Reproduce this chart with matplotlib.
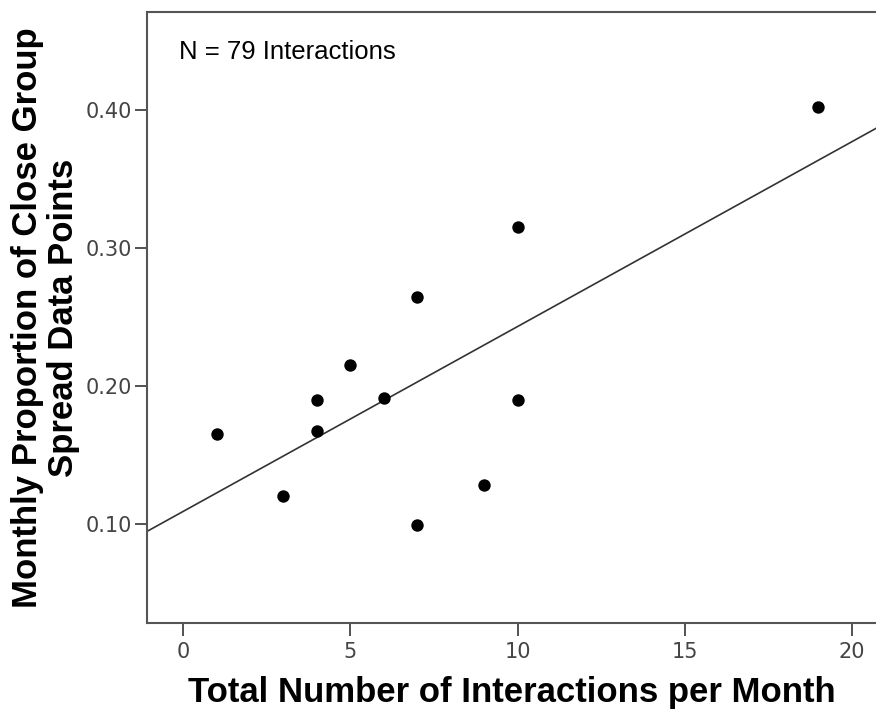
import numpy as np
import matplotlib
matplotlib.use('Agg')
import matplotlib.pyplot as plt

# values
interactions = [1, 3, 4, 4, 5, 6, 7, 7, 9, 10, 10, 19]
proportion = [0.165, 0.120, 0.190, 0.167, 0.215, 0.191, 0.264, 0.099, 0.128, 0.315, 0.190, 0.402]
x_ticks = [0, 5, 10, 15, 20]
y_ticks = [0.10, 0.20, 0.30, 0.40]

fig = plt.figure(figsize=(8.76, 7.13), dpi=100)
ax = fig.add_axes([0.1678, 0.1262, 0.8322, 0.857])

xlim = (-1.08, 20.72)
ylim = (0.028, 0.471)

ax.scatter(interactions, proportion, s=80, color='black', zorder=3, linewidths=0)

# fit line
slope, intercept = np.polyfit(interactions, proportion, 1)
xs = np.array(xlim)
ax.plot(xs, intercept + slope * xs, color='#333333', lw=1.2)

ax.set_xlim(xlim)
ax.set_ylim(ylim)
ax.set_xticks(x_ticks)
ax.set_yticks(y_ticks)
ax.set_yticklabels(['%.2f' % v for v in y_ticks])

for s in ['left', 'bottom', 'top']:
    ax.spines[s].set_color('#555555')
    ax.spines[s].set_linewidth(1.5)
ax.spines['right'].set_visible(False)

ax.tick_params(direction='out', length=9, width=1.3, color='#444444',
               labelcolor='#444444', labelsize=15, pad=2)
for lab in ax.get_xticklabels() + ax.get_yticklabels():
    lab.set_family(['Liberation Sans Narrow', 'DejaVu Sans'])
ax.tick_params(axis='x', pad=5)

ax.text(0.044, 0.935, 'N = 79 Interactions', transform=ax.transAxes,
        fontsize=18.5, family=['Liberation Sans', 'DejaVu Sans'], va='center')

bold = dict(fontsize=25, fontweight='bold', family=['Liberation Sans', 'DejaVu Sans'])
ax.set_xlabel('Total Number of Interactions per Month', labelpad=10, **bold)
ax.set_ylabel('Monthly Proportion of Close Group\nSpread Data Points',
              labelpad=4, linespacing=1.1, **bold)

fig.savefig('out.png', dpi=100)
